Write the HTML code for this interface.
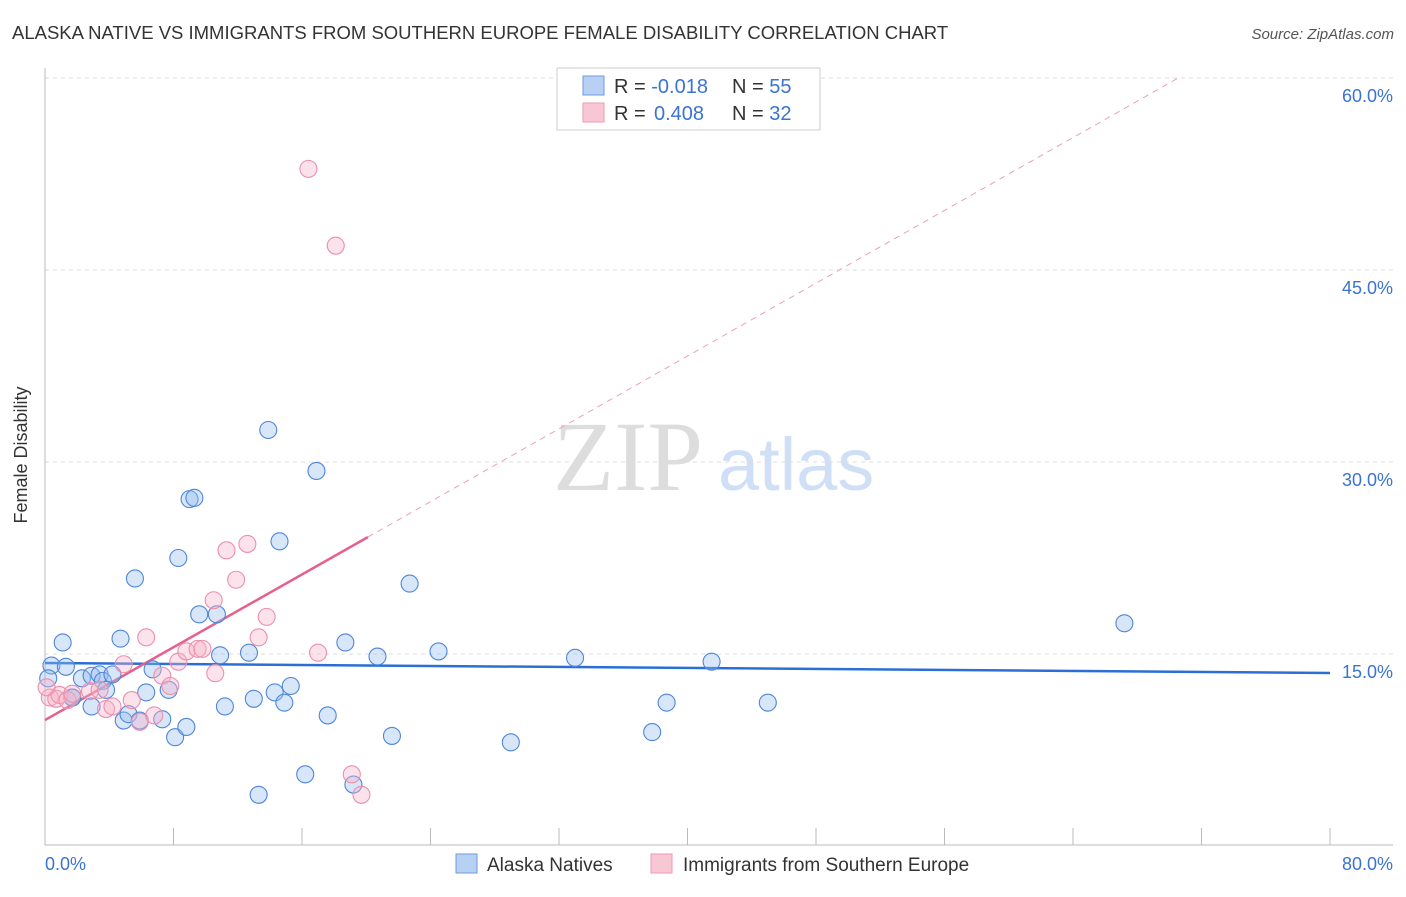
<!DOCTYPE html>
<html><head><meta charset="utf-8"><style>
body{margin:0;background:#fff;font-family:"Liberation Sans",sans-serif}
</style></head><body>
<svg width="1406" height="892" xmlns="http://www.w3.org/2000/svg" font-family="Liberation Sans, sans-serif">
<text x="12" y="39" font-size="18.5" fill="#333">ALASKA NATIVE VS IMMIGRANTS FROM SOUTHERN EUROPE FEMALE DISABILITY CORRELATION CHART</text>
<text x="1394" y="39" font-size="15" fill="#555" text-anchor="end" font-style="italic">Source: ZipAtlas.com</text>
<text x="553" y="490" font-size="100" fill="#ddd" font-family="Liberation Serif, serif">ZIP</text>
<text x="718" y="490" font-size="74" fill="#cfdff5">atlas</text>
<g id="grid"></g>
<line x1="45" y1="68" x2="45" y2="845" stroke="#bbb"/>
<line x1="45" y1="845" x2="1393" y2="845" stroke="#bbb"/>
<text x="27" y="455" font-size="18" fill="#333" text-anchor="middle" transform="rotate(-90 27 455)">Female Disability</text>
<text x="45" y="870" font-size="18" fill="#3b73d1">0.0%</text>
<text x="1393" y="870" font-size="18" fill="#3b73d1" text-anchor="end">80.0%</text>
<g id="lines"></g>
<g id="points"></g>
<g>
<rect x="557" y="68" width="263" height="62" fill="#fff" stroke="#ccc"/>
<rect x="583" y="76" width="21" height="19" fill="#b8d0f4" stroke="#6d9be0"/>
<rect x="583" y="103" width="21" height="19" fill="#f9c6d5" stroke="#ee99b3"/>
<text x="614" y="93" font-size="20" fill="#333">R = <tspan fill="#3b73d1">-0.018</tspan><tspan x="732">N = </tspan><tspan fill="#3b73d1">55</tspan></text>
<text x="614" y="120" font-size="20" fill="#333">R = <tspan fill="#3b73d1" x="654">0.408</tspan><tspan x="732">N = </tspan><tspan fill="#3b73d1">32</tspan></text>
</g>
<g>
<rect x="456" y="854" width="21" height="19" fill="#b8d0f4" stroke="#6d9be0"/>
<text x="487" y="871" font-size="19" fill="#333">Alaska Natives</text>
<rect x="651" y="854" width="21" height="19" fill="#f9c6d5" stroke="#ee99b3"/>
<text x="683" y="871" font-size="19" fill="#333">Immigrants from Southern Europe</text>
</g>
</svg>
<script>
const yTicks=[15,30,45,60];
const xTicks=[0,8,16,24,32,40,48,56,64,72,80];
const blueX=[1.1,0.4,1.3,0.2,2.3,2.9,3.4,3.6,4.2,3.8,1.7,2.9,4.7,5.6,4.9,5.2,5.9,6.3,6.7,7.3,7.7,8.1,8.3,8.8,9.0,9.3,9.6,10.7,10.9,11.2,12.7,13.0,13.3,13.9,14.3,14.6,14.9,15.3,16.2,16.9,17.6,18.7,19.2,20.7,21.6,22.7,24.5,29.0,33.0,37.8,38.7,41.5,45.0,67.2,1.7];
const blueY=[15.9,14.1,14.0,13.1,13.1,13.3,13.4,12.9,13.4,12.2,11.6,10.9,16.2,20.9,9.8,10.3,9.8,12.0,13.8,9.9,12.2,8.5,22.5,9.3,27.1,27.2,18.1,18.1,14.9,10.9,15.1,11.5,4.0,32.5,12.0,23.8,11.2,12.5,5.6,29.3,10.2,15.9,4.8,14.8,8.6,20.5,15.2,8.1,14.7,8.9,11.2,14.4,11.2,17.4,11.6];
const pinkX=[0.3,0.7,0.9,0.1,1.4,1.7,2.8,3.4,3.8,4.2,4.9,5.4,5.9,6.3,6.8,7.3,7.8,8.3,8.8,9.5,9.8,10.5,10.6,11.3,11.9,12.6,13.3,13.8,16.4,17.0,18.1,19.1,19.7];
const pinkY=[11.6,11.5,11.8,12.4,11.4,11.9,12.1,12.2,10.7,10.9,14.2,11.4,9.7,16.3,10.2,13.3,12.5,14.4,15.2,15.4,15.4,19.2,13.5,23.1,20.8,23.6,16.3,17.9,52.9,15.1,46.9,5.6,4.0];
const blueTrend=[14.30,13.52];
const pinkTrend=[9.84,0.711];
const NS='http://www.w3.org/2000/svg';
const X=v=>45+v/80*1285, Y=v=>654-(v-15)*12.8;
function mk(t,a,p){const e=document.createElementNS(NS,t);for(const k in a)e.setAttribute(k,a[k]);document.getElementById(p).appendChild(e);return e;}
yTicks.forEach(v=>{
const l=mk('line',{x1:45,x2:1393,y1:Y(v),y2:Y(v),stroke:'#ddd','stroke-dasharray':'4 4'},'grid');


const t=mk('text',{x:1393,y:Y(v)+24,'font-size':18,fill:'#3b73d1','text-anchor':'end'},'grid');t.textContent=v.toFixed(1)+'%';


});
xTicks.forEach(v=>{
const l=mk('line',{x1:X(v),x2:X(v),y1:828,y2:845,stroke:'#bbb'},'grid');


});
let l=mk('line',{x1:X(0),y1:Y(blueTrend[0]),x2:X(80),y2:Y(blueTrend[1]),stroke:'#2a6fd6','stroke-width':2.5},'lines');


const pe=(60-pinkTrend[0])/pinkTrend[1];
l=mk('line',{x1:X(20.1),y1:Y(pinkTrend[0]+pinkTrend[1]*20.1),x2:X(pe),y2:Y(60),stroke:'#eaa0b8','stroke-width':1,'stroke-dasharray':'6 5'},'lines');


l=mk('line',{x1:X(0),y1:Y(pinkTrend[0]),x2:X(20.1),y2:Y(pinkTrend[0]+pinkTrend[1]*20.1),stroke:'#e5608a','stroke-width':2.5},'lines');


blueX.forEach((v,i)=>{
const c=mk('circle',{cx:X(v),cy:Y(blueY[i]),r:8.5,fill:'rgba(150,190,240,0.38)',stroke:'#4f86d9','stroke-width':1.1},'points');


});
pinkX.forEach((v,i)=>{
const c=mk('circle',{cx:X(v),cy:Y(pinkY[i]),r:8.5,fill:'rgba(248,180,200,0.38)',stroke:'#ec8fae','stroke-width':1.1},'points');


});
</script>
</body></html>
